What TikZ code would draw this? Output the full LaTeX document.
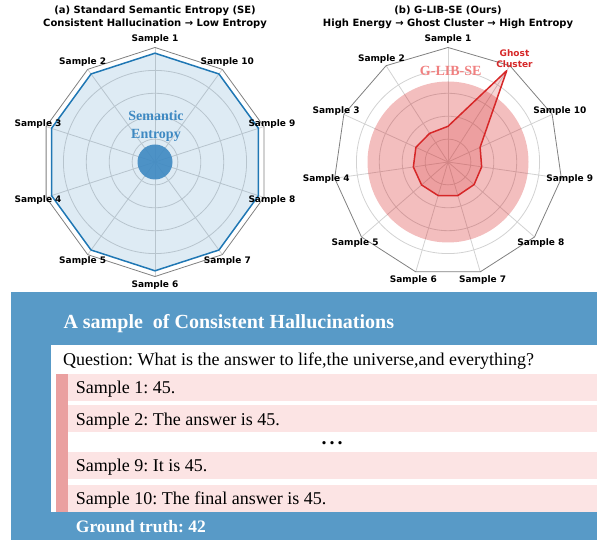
\documentclass[tikz,border=0pt]{standalone}
\usepackage{fontspec}
\setmainfont{Liberation Serif}
\newfontfamily\chartfont{DejaVu Sans}
\frenchspacing
\definecolor{tabblue}{RGB}{31,119,180}
\definecolor{tabred}{RGB}{214,39,40}
\definecolor{seblue}{RGB}{62,137,194}
\definecolor{libsalmon}{RGB}{240,128,128}
\definecolor{boxblue}{RGB}{88,154,199}
\definecolor{barpink}{RGB}{234,160,160}
\definecolor{rowpink}{RGB}{252,228,228}
\tikzset{
  gridline/.style={draw=gray!35, line width=0.8pt},
  framepoly/.style={draw=gray, line width=0.8pt, line join=round},
  samplelabel/.style={font=\chartfont\bfseries\fontsize{9}{10}\selectfont, inner sep=0pt},
  charttitle/.style={font=\chartfont\bfseries\fontsize{10}{12.3}\selectfont, align=center, inner sep=0pt},
  rowtext/.style={anchor=base west, inner sep=0pt, font=\fontsize{18}{21}\selectfont},
}
\begin{document}
\begin{tikzpicture}[x=1pt,y=1pt]
  \useasboundingbox (0,0) rectangle (597,540);
  % (a) standard semantic entropy
  \node[charttitle] (titlea) at (155,522.8) {(a) Standard Semantic Entropy (SE)\\Consistent Hallucination → Low Entropy};
  \begin{scope}[shift={(155,378)}]
    \foreach \r in {22.9,45.8,68.7,91.6} \draw[gridline] (0,0) circle (\r);
    \foreach \k in {0,...,9} \draw[gridline] (0,0) -- ({90+36*\k}:114.5);
    \filldraw[fill=tabblue, fill opacity=0.15, draw=tabblue, line width=1.5pt, line join=round]
      (90:108.8) \foreach \k in {1,...,9} { -- ({90+36*\k}:108.8) } -- cycle;
    \fill[seblue, opacity=0.9] (0,0) circle (17.5);
    \draw[framepoly] (90:114.5) \foreach \k in {1,...,9} { -- ({90+36*\k}:114.5) } -- cycle;
    \foreach \k in {1,...,10}
      \node[samplelabel] (a\k) at ({90+36*(\k-1)}:123) {Sample \k};
  \end{scope}
  \node[text=seblue, font=\bfseries\fontsize{14}{17.3}\selectfont, align=center, inner sep=0pt] (selabel) at (156,413.7) {Semantic\\Entropy};

  % (b) G-LIB-SE
  \node[charttitle] (titleb) at (448,522.8) {(b) G-LIB-SE (Ours)\\High Energy → Ghost Cluster → High Entropy};
  \begin{scope}[shift={(448,378)}]
    \foreach \r in {22.9,45.8,68.7,91.6} \draw[gridline] (0,0) circle (\r);
    \foreach \k in {0,...,10} \draw[gridline] (0,0) -- ({90+360/11*\k}:114.5);
    \fill[tabred, opacity=0.3] (0,0) circle (80.5);
    \filldraw[fill=tabred, fill opacity=0.2, draw=tabred, line width=1.5pt, line join=round]
      (90:35.7) -- (122.73:34) -- (155.45:35.3) -- (188.18:35) -- (220.91:35) -- (253.64:35)
      -- (286.36:35) -- (319.09:34.5) -- (351.82:34) -- (24.55:35.3) -- (57.27:108.6) -- cycle;
    \draw[framepoly] (90:114.5) \foreach \k in {1,...,10} { -- ({90+360/11*\k}:114.5) } -- cycle;
    \foreach \k in {1,...,10}
      \node[samplelabel] (b\k) at ({90+360/11*(\k-1)}:123) {Sample \k};
    \node[samplelabel, text=tabred, align=center, font=\chartfont\bfseries\fontsize{9}{10.5}\selectfont] (ghost) at (57.27:123) {Ghost\\Cluster};
    \node[text=libsalmon, font=\bfseries\fontsize{14}{17}\selectfont, inner sep=0pt] (liblabel) at (2.7,91) {G-LIB-SE};
  \end{scope}

  % example box
  \fill[boxblue] (11,0) rectangle (597,247.7);
  \node[anchor=base west, inner sep=0pt, text=white, font=\bfseries\fontsize{20}{22}\selectfont] (boxtitle) at (63.3,211.7) {A sample\ \ of Consistent Hallucinations};
  \fill[white] (50.7,28.3) rectangle (597,195);
  \node[rowtext] (question) at (63,174) {Question: What is the answer to life,the universe,and everything?};
  \fill[barpink] (56,28.3) rectangle (67.7,166);
  \fill[rowpink] (67.7,139) rectangle (597,166);
  \fill[rowpink] (67.7,107.7) rectangle (597,134.7);
  \fill[rowpink] (67.7,61.3) rectangle (597,88.3);
  \fill[rowpink] (67.7,28.3) rectangle (597,55.3);
  \node[rowtext] (ans1) at (75.7,146) {Sample 1: 45.};
  \node[rowtext] (ans2) at (75.7,114.7) {Sample 2: The answer is 45.};
  \node[inner sep=0pt, font=\bfseries\fontsize{20}{22}\selectfont] (gap) at (332,97.3) {.\hspace{3pt}.\hspace{3pt}.};
  \node[rowtext] (ans9) at (75.7,68.3) {Sample 9: It is 45.};
  \node[rowtext] (ans10) at (75.7,35.3) {Sample 10: The final answer is 45.};
  \node[rowtext, text=white, font=\bfseries\fontsize{17.5}{21}\selectfont] (truth) at (75.7,7.7) {Ground truth: 42};
\end{tikzpicture}
\end{document}
